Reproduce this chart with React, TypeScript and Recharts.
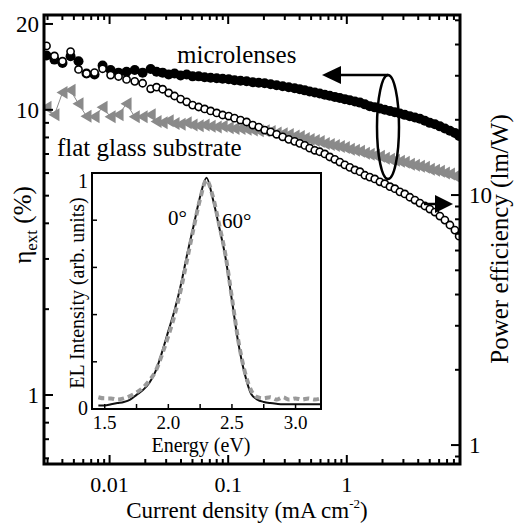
import React from 'react';
import { ComposedChart, Line, XAxis, YAxis } from 'recharts';

// current density (mA/cm2), shared by the three main-panel series
const currentDensity = [
    0.00294, 0.00343, 0.00401, 0.00469, 0.00547, 0.00639, 0.00747, 0.00873, 0.0102, 0.0119, 0.0139, 0.0163, 0.019, 0.0222,
    0.0249, 0.028, 0.0315, 0.0353, 0.0397, 0.0447, 0.0501, 0.0564, 0.0633, 0.0711, 0.08, 0.0898, 0.101, 0.113, 0.127,
    0.143, 0.161, 0.181, 0.203, 0.228, 0.256, 0.288, 0.324, 0.363,
    0.401, 0.442, 0.486, 0.537, 0.591, 0.652, 0.718, 0.792, 0.873, 0.962, 1.06, 1.17, 1.29, 1.42, 1.56, 1.72, 1.9, 2.09,
    2.31, 2.54, 2.8, 3.08, 3.4, 3.75, 4.13, 4.55, 5.01, 5.53, 6.09, 6.71, 7.4, 8.15, 8.85,
];

// eta_ext (%) with microlenses - filled circles, left axis
const etaMicrolens = [
    15.5, 15.0, 14.6, 15.4, 14.8, 13.4, 13.3, 14.3, 13.8, 13.5, 13.6, 13.8, 13.5, 13.9,
    13.6, 13.5, 13.3, 13.4, 13.2, 13.3, 13.1, 13.1, 13.0, 12.95, 12.9, 12.85, 12.8, 12.7, 12.65, 12.6, 12.5, 12.45,
    12.4, 12.3, 12.2, 12.1, 12.0, 11.9,
    11.8, 11.7, 11.6, 11.5, 11.4, 11.3, 11.2, 11.1, 11.0, 10.9, 10.8, 10.7, 10.6, 10.45, 10.3, 10.2, 10.1, 10.0, 9.9,
    9.8, 9.7, 9.6, 9.5, 9.4, 9.3, 9.15, 9.0, 8.9, 8.75, 8.6, 8.45, 8.3, 8.1,
];

// power efficiency (lm/W) with microlenses - open circles, right axis
const powerEffMicrolens = [
    39.5, 36.0, 34.3, 37.5, 31.8, 30.6, 30.9, 32.0, 30.2, 29.8, 29.0, 28.5, 28.0, 26.6,
    27.0, 26.5, 25.6, 24.9, 24.2, 23.6, 22.9, 22.5, 22.1, 21.7, 21.3, 20.9, 20.7, 20.3, 19.95, 19.6, 19.05, 18.7,
    18.2, 17.9, 17.5, 17.1, 16.7, 16.4,
    16.1, 15.8, 15.4, 15.1, 14.9, 14.6, 14.2, 13.9, 13.55, 13.2, 12.9, 12.6, 12.4, 12.0, 11.8, 11.6, 11.3, 11.1, 10.8,
    10.6, 10.3, 10.1, 9.8, 9.55, 9.29, 9.04, 8.79, 8.55, 8.24, 7.94, 7.59, 7.24, 6.85,
];

// eta_ext (%) on flat glass substrate - grey triangles, left axis
const etaFlatGlass = [
    10.2, 9.6, 11.5, 11.7, 10.5, 9.5, 9.45, 10.2, 9.45, 9.6, 10.5, 9.45, 9.45, 9.6,
    9.1, 9.0, 9.15, 8.95, 8.9, 9.0, 8.85, 8.8, 8.85, 8.75, 8.7, 8.75, 8.65, 8.6, 8.6, 8.55, 8.5, 8.45,
    8.45, 8.4, 8.3, 8.25, 8.2, 8.1,
    8.06, 7.93, 7.87, 7.81, 7.74, 7.62, 7.56, 7.5, 7.44, 7.38, 7.27, 7.21, 7.15, 7.04, 6.98, 6.93, 6.87, 6.76, 6.71,
    6.65, 6.6, 6.55, 6.44, 6.39, 6.34, 6.29, 6.19, 6.14, 6.09, 6.0, 5.95, 5.85, 5.81,
];

// inset: EL spectra
const energy = [
    1.45, 1.5, 1.55, 1.6, 1.65, 1.7, 1.75, 1.8, 1.85, 1.9, 1.95, 2.0, 2.05, 2.1, 2.15, 2.2, 2.25, 2.3,
    2.35, 2.4, 2.45, 2.5, 2.55, 2.6, 2.65, 2.7, 2.75, 2.8, 2.85, 2.9, 2.95, 3.0, 3.05, 3.1, 3.15, 3.2,
];
const el0deg = [
    0.015, 0.015, 0.02, 0.025, 0.03, 0.04, 0.06, 0.08, 0.11, 0.16, 0.24, 0.33, 0.42, 0.53, 0.66, 0.78, 0.9, 0.98,
    0.89, 0.77, 0.64, 0.46, 0.28, 0.15, 0.065, 0.04, 0.03, 0.025, 0.022, 0.02, 0.02, 0.02, 0.02, 0.02, 0.02, 0.02,
];
const el60deg = [
    0.05, 0.045, 0.045, 0.04, 0.045, 0.055, 0.07, 0.09, 0.12, 0.16, 0.23, 0.31, 0.4, 0.51, 0.64, 0.77, 0.89, 0.97,
    0.9, 0.78, 0.65, 0.47, 0.29, 0.16, 0.08, 0.05, 0.045, 0.05, 0.04, 0.05, 0.04, 0.045, 0.04, 0.045, 0.04, 0.045,
];

// tick values
const xTicks = [
    0.003, 0.004, 0.005, 0.006, 0.007, 0.008, 0.009, 0.01, 0.02, 0.03, 0.04, 0.05, 0.06, 0.07, 0.08, 0.09,
    0.1, 0.2, 0.3, 0.4, 0.5, 0.6, 0.7, 0.8, 0.9, 1, 2, 3, 4, 5, 6, 7, 8, 9,
];
const xLabels = [0.01, 0.1, 1];
const etaTicks = [0.6, 0.7, 0.8, 0.9, 1, 2, 3, 4, 5, 6, 7, 8, 9, 10, 20];
const etaLabels = [1, 10, 20];
const peTicks = [0.9, 1, 2, 3, 4, 5, 6, 7, 8, 9, 10, 20, 30, 40, 50];
const peLabels = [1, 10];
const energyTicks = [1.5, 1.75, 2.0, 2.25, 2.5, 2.75, 3.0];
const energyLabels = [1.5, 2.0, 2.5, 3.0];
const elTicks = [0, 0.2, 0.4, 0.6, 0.8, 1];

const FONT = "'Liberation Serif', 'Times New Roman', 'DejaVu Serif', serif";
const serif = { fontFamily: FONT };
const GREY = '#8a8a8a';
const PLOT_H = 449;

const mainData = currentDensity.map((j, i) => ({
    j,
    eta: etaMicrolens[i],
    pe: powerEffMicrolens[i],
    flat: etaFlatGlass[i],
}));

const insetData = energy.map((e, i) => ({ e, a: el0deg[i], b: el60deg[i] }));

const isMajor = (v: number, list: number[]) => list.some(m => Math.abs(m - v) < 1e-9);

// ticks point inwards, labels sit outside
const BottomTick = ({ x, y, payload }: any) => {
    const major = isMajor(payload.value, xLabels);
    const len = major ? 9 : 5;
    return (
        <g>
            <line x1={x} y1={y} x2={x} y2={y - len} stroke="#000" strokeWidth={2} />
            <line x1={x} y1={y - PLOT_H} x2={x} y2={y - PLOT_H + len} stroke="#000" strokeWidth={2} />
            {major && (
                <text x={x} y={y + 28} textAnchor="middle" fontSize={22} style={serif} fill="#000">
                    {String(payload.value)}
                </text>
            )}
        </g>
    );
};

const LeftTick = ({ x, y, payload }: any) => {
    const major = isMajor(payload.value, etaLabels);
    const len = major ? 9 : 5;
    return (
        <g>
            <line x1={x} y1={y} x2={x + len} y2={y} stroke="#000" strokeWidth={2} />
            {major && (
                <text x={x - 5} y={y + 8} textAnchor="end" fontSize={23} style={serif} fill="#000">
                    {String(payload.value)}
                </text>
            )}
        </g>
    );
};

const RightTick = ({ x, y, payload }: any) => {
    const major = isMajor(payload.value, peLabels);
    const len = major ? 9 : 5;
    return (
        <g>
            <line x1={x} y1={y} x2={x - len} y2={y} stroke="#000" strokeWidth={2} />
            {major && (
                <text x={x + 9} y={y + 8} textAnchor="start" fontSize={23} style={serif} fill="#000">
                    {String(payload.value)}
                </text>
            )}
        </g>
    );
};

const InsetBottomTick = ({ x, y, payload }: any) => {
    const major = isMajor(payload.value, energyLabels);
    return (
        <g>
            <line x1={x} y1={y} x2={x} y2={y - 5} stroke="#000" strokeWidth={1.5} />
            {major && (
                <text x={x} y={y + 20} textAnchor="middle" fontSize={19} style={serif} fill="#000">
                    {payload.value.toFixed(1)}
                </text>
            )}
        </g>
    );
};

const InsetLeftTick = ({ x, y, payload }: any) => {
    const v = payload.value;
    return (
        <g>
            <line x1={x} y1={y} x2={x + 5} y2={y} stroke="#000" strokeWidth={1.5} />
            {(v === 0 || v === 1) && (
                <text x={x - 4} y={v === 1 ? y + 15 : y + 6} textAnchor="end" fontSize={20} style={serif} fill="#000">
                    {String(v)}
                </text>
            )}
        </g>
    );
};

const FilledDot = (p: any) => (
    <circle key={`f-${p.index}`} cx={p.cx} cy={p.cy} r={5} fill="#000" />
);

const OpenDot = (p: any) => (
    <circle key={`o-${p.index}`} cx={p.cx} cy={p.cy} r={3.6} fill="#fff" stroke="#000" strokeWidth={1.6} />
);

const TriangleDot = (p: any) => (
    <polygon
        key={`t-${p.index}`}
        points={`${p.cx - 6},${p.cy} ${p.cx + 5},${p.cy - 6.5} ${p.cx + 5},${p.cy + 6.5}`}
        fill={GREY}
    />
);

const App = () => {
    return (
        <div style={{ position: 'absolute', left: 0, top: 0, width: 514, height: 523, background: '#fff' }}>
            <ComposedChart width={514} height={523} data={mainData} margin={{ top: 15, right: 10, bottom: 19, left: 10 }}>
                <XAxis
                    dataKey="j"
                    type="number"
                    scale="log"
                    domain={[0.0028, 9]}
                    allowDataOverflow
                    ticks={xTicks}
                    interval={0}
                    tick={<BottomTick />}
                    tickSize={0}
                    tickMargin={0}
                    axisLine={false}
                    tickLine={false}
                    height={40}
                />
                <YAxis
                    yAxisId="left"
                    type="number"
                    scale="log"
                    domain={[0.573, 21.5]}
                    allowDataOverflow
                    ticks={etaTicks}
                    interval={0}
                    tick={<LeftTick />}
                    tickSize={0}
                    tickMargin={0}
                    axisLine={false}
                    tickLine={false}
                    width={34}
                />
                <YAxis
                    yAxisId="right"
                    orientation="right"
                    type="number"
                    scale="log"
                    domain={[0.84, 52.5]}
                    allowDataOverflow
                    ticks={peTicks}
                    interval={0}
                    tick={<RightTick />}
                    tickSize={0}
                    tickMargin={0}
                    axisLine={false}
                    tickLine={false}
                    width={44}
                />
                <Line
                    yAxisId="left"
                    dataKey="flat"
                    stroke={GREY}
                    strokeWidth={1}
                    dot={TriangleDot}
                    activeDot={false}
                    isAnimationActive={false}
                />
                <Line
                    yAxisId="left"
                    dataKey="eta"
                    stroke="none"
                    dot={FilledDot}
                    activeDot={false}
                    isAnimationActive={false}
                />
                <Line
                    yAxisId="right"
                    dataKey="pe"
                    stroke="none"
                    dot={OpenDot}
                    activeDot={false}
                    isAnimationActive={false}
                />
            </ComposedChart>

            <div style={{ position: 'absolute', left: 50, top: 163 }}>
                <ComposedChart width={281} height={295} data={insetData} margin={{ top: 10, right: 10, bottom: 19, left: 12 }}>
                    <XAxis
                        dataKey="e"
                        type="number"
                        domain={[1.4, 3.2]}
                        allowDataOverflow
                        ticks={energyTicks}
                        interval={0}
                        tick={<InsetBottomTick />}
                        tickSize={0}
                        tickMargin={0}
                        axisLine={false}
                        tickLine={false}
                        height={30}
                    />
                    <YAxis
                        type="number"
                        domain={[0, 1]}
                        allowDataOverflow
                        ticks={elTicks}
                        interval={0}
                        tick={<InsetLeftTick />}
                        tickSize={0}
                        tickMargin={0}
                        axisLine={false}
                        tickLine={false}
                        width={30}
                    />
                    <Line
                        type="monotone"
                        dataKey="a"
                        stroke="#111"
                        strokeWidth={2}
                        dot={false}
                        activeDot={false}
                        isAnimationActive={false}
                    />
                    <Line
                        type="monotone"
                        dataKey="b"
                        stroke="#9a9a9a"
                        strokeWidth={4}
                        strokeDasharray="6 4"
                        dot={false}
                        activeDot={false}
                        isAnimationActive={false}
                    />
                </ComposedChart>
            </div>

            <svg
                width={514}
                height={523}
                style={{ position: 'absolute', left: 0, top: 0, pointerEvents: 'none', fontFamily: FONT }}
            >
                {/* plot frames */}
                <rect x={44} y={15} width={416} height={449} fill="none" stroke="#000" strokeWidth={3} />
                <rect x={92} y={173} width={229} height={236} fill="none" stroke="#000" strokeWidth={2} />

                {/* annotations */}
                <text x={177} y={63} fontSize={25} style={serif}>microlenses</text>
                <text x={57} y={156} fontSize={25} style={serif}>flat glass substrate</text>
                <ellipse cx={388} cy={127} rx={11} ry={52} fill="none" stroke="#000" strokeWidth={2.5} />
                <line x1={388} y1={75} x2={336} y2={75} stroke="#000" strokeWidth={2.5} />
                <polygon points="322,75 341,66 341,84" fill="#000" />
                <line x1={424} y1={204} x2={440} y2={204} stroke="#000" strokeWidth={2.5} />
                <polygon points="453,204 435,195 435,213" fill="#000" />
                <text x={168} y={225} fontSize={21} style={serif}>0°</text>
                <text x={222} y={228} fontSize={21} style={serif}>60°</text>

                {/* axis titles */}
                <text x={247} y={518} textAnchor="middle" fontSize={23} style={serif}>
                    Current density (mA cm<tspan fontSize={13} dy={-10}>-2</tspan>
                    <tspan dy={10}>)</tspan>
                </text>
                <text x={31} y={225} textAnchor="middle" fontSize={25} transform="rotate(-90 31 225)" style={serif}>
                    η<tspan fontSize={17} dy={6}>ext</tspan>
                    <tspan dy={-6}> (%)</tspan>
                </text>
                <text x={508} y={239} textAnchor="middle" fontSize={25} transform="rotate(-90 508 239)" style={serif}>
                    Power efficiency (lm/W)
                </text>
                <text x={201} y={452} textAnchor="middle" fontSize={20} style={serif}>Energy (eV)</text>
                <text x={84} y={293} textAnchor="middle" fontSize={20} transform="rotate(-90 84 293)" style={serif}>
                    EL Intensity (arb. units)
                </text>
            </svg>
        </div>
    );
};

export default App;
